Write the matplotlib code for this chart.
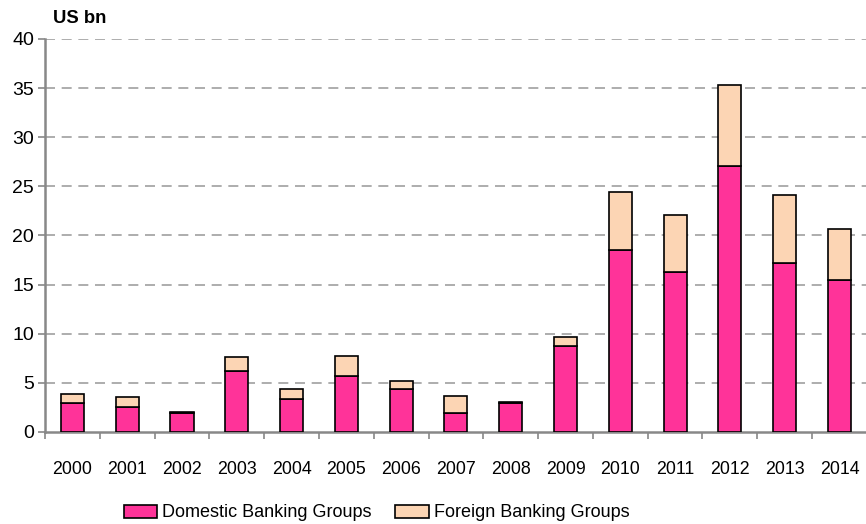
import numpy as np
import matplotlib.pyplot as plt

plt.rcParams['font.family'] = ['Liberation Sans', 'DejaVu Sans']

years = ['2000', '2001', '2002', '2003', '2004', '2005', '2006', '2007',
         '2008', '2009', '2010', '2011', '2012', '2013', '2014']
domestic = [2.9, 2.5, 1.9, 6.2, 3.4, 5.7, 4.4, 1.9, 2.9, 8.8, 18.5, 16.3, 27.1, 17.2, 15.5]
foreign = [1.0, 1.1, 0.15, 1.4, 1.0, 2.0, 0.8, 1.8, 0.15, 0.85, 5.9, 5.8, 8.2, 6.9, 5.2]

pink = '#FF3399'
peach = '#FCD5B4'
axis_grey = '#888888'

fig = plt.figure(figsize=(8.66, 5.24), dpi=100)
ax = fig.add_axes([0.052, 0.1756, 0.949, 0.75])

x = np.arange(len(years))
w = 0.42
ax.bar(x, domestic, w, color=pink, edgecolor='black', linewidth=1.2,
       label='Domestic Banking Groups', zorder=3)
ax.bar(x, foreign, w, bottom=domestic, color=peach, edgecolor='black',
       linewidth=1.2, label='Foreign Banking Groups', zorder=3)

ax.set_xlim(-0.5, len(years) - 0.5)
ax.set_ylim(0, 40)
ax.set_yticks(range(0, 41, 5))
ax.set_xticks(x)
ax.set_xticklabels(years)
ax.set_xticks(np.arange(-0.5, len(years), 1.0), minor=True)

ax.tick_params(axis='x', which='major', length=0, pad=21, labelsize=12.8)
ax.tick_params(axis='x', which='minor', length=5, width=1.2, color=axis_grey,
               direction='out')
ax.tick_params(axis='y', length=5, width=1.2, color=axis_grey, pad=3,
               labelsize=14)

# dashed gridlines, skipping the zero line
for v in range(5, 41, 5):
    ax.axhline(v, color='#A0A0A0', linestyle=(0, (6, 4)), linewidth=1.2, zorder=1)

for side in ['top', 'right']:
    ax.spines[side].set_visible(False)
for side in ['left', 'bottom']:
    ax.spines[side].set_color(axis_grey)
    ax.spines[side].set_linewidth(1.8)

fig.text(0.061, 0.965, 'US bn', fontsize=13.3, fontweight='bold', va='center')

fig.legend(loc='center', bbox_to_anchor=(0.435, 0.021), ncol=2, frameon=False,
           fontsize=13, handlelength=1.85, handleheight=0.75, handletextpad=0.3,
           columnspacing=1.3)

fig.savefig('out.png', dpi=100)
